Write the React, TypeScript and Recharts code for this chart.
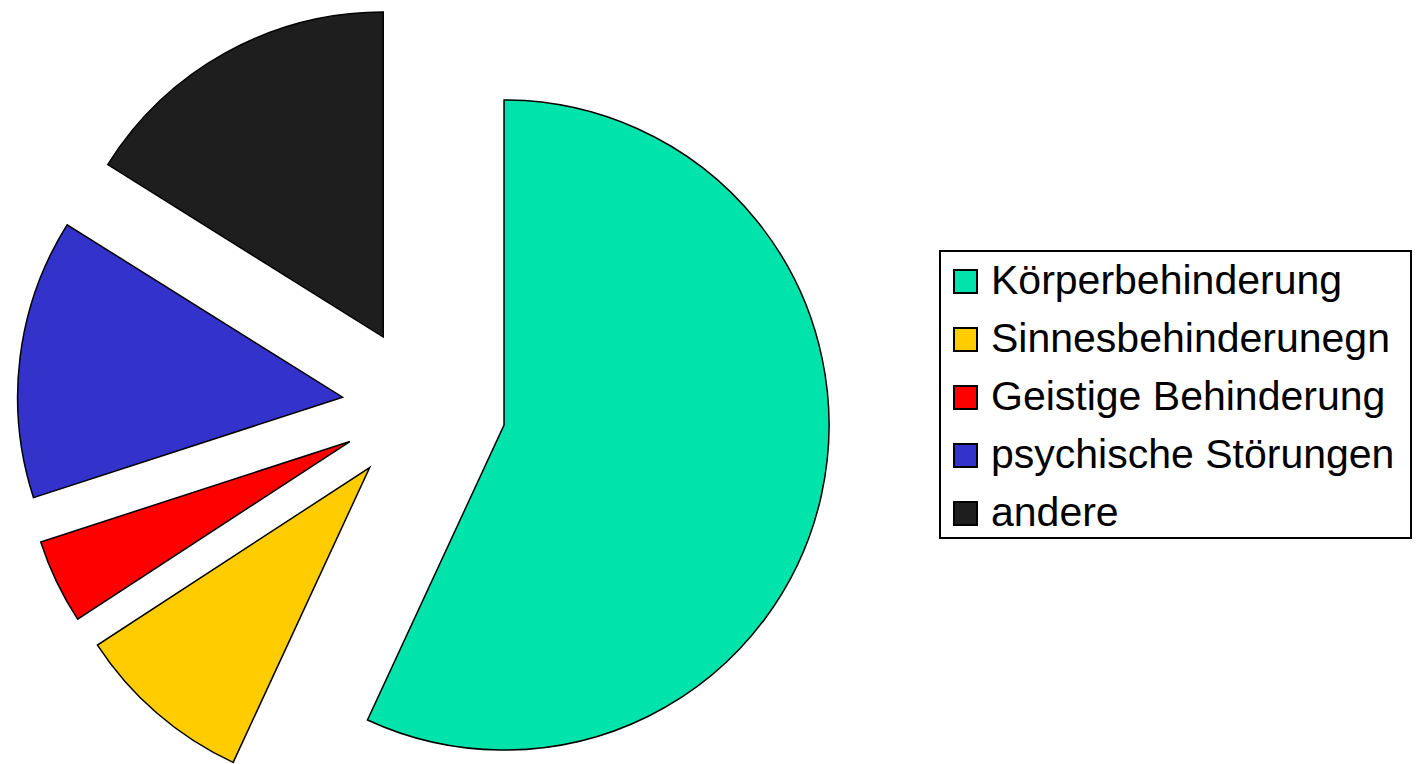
import { PieChart, Pie, Cell } from 'recharts';

const categories = [
  'Körperbehinderung',
  'Sinnesbehinderunegn',
  'Geistige Behinderung',
  'psychische Störungen',
  'andere',
];
const shares = [56.9, 8.9, 4.2, 13.9, 16.1];
const colors = ['#00E3AA', '#FFCC00', '#FF0000', '#3333CC', '#1E1E1E'];

const data = categories.map((name, i) => ({ name, value: shares[i] }));
const total = shares.reduce((a, b) => a + b, 0);

const CX = 422;
const CY = 407;
const RADIUS = 325;
const EXPLODE = [84, 80, 80, 80, 80];

// each slice is pushed out along its own mid angle
function sliceCenter(i: number) {
  const before = shares.slice(0, i).reduce((a, b) => a + b, 0);
  const mid = 90 - ((before + shares[i] / 2) / total) * 360;
  const rad = (mid * Math.PI) / 180;
  return { cx: CX + EXPLODE[i] * Math.cos(rad), cy: CY - EXPLODE[i] * Math.sin(rad) };
}

export default function App() {
  return (
    <div style={{ position: 'absolute', left: 0, top: 0, width: 1418, height: 764, background: '#fff' }}>
      <PieChart width={1418} height={764} margin={{ top: 0, right: 0, bottom: 0, left: 0 }}>
        {categories.map((_, i) => {
          const { cx, cy } = sliceCenter(i);
          return (
            <Pie
              key={i}
              data={data}
              dataKey="value"
              nameKey="name"
              cx={cx}
              cy={cy}
              innerRadius={0}
              outerRadius={RADIUS}
              startAngle={90}
              endAngle={-270}
              isAnimationActive={false}
            >
              {data.map((_, j) => (
                <Cell
                  key={j}
                  fill={j === i ? colors[j] : 'none'}
                  stroke={j === i ? '#000' : 'none'}
                  strokeWidth={1.5}
                />
              ))}
            </Pie>
          );
        })}
      </PieChart>

      {/* legend box */}
      <div
        style={{
          position: 'absolute',
          left: 939,
          top: 250,
          width: 469,
          height: 285,
          border: '2px solid #000',
          background: '#fff',
        }}
      />
      {categories.map((name, i) => (
        <div key={name}>
          <div
            style={{
              position: 'absolute',
              left: 953,
              top: 269 + i * 58,
              width: 21,
              height: 21,
              background: colors[i],
              border: '2px solid #000',
            }}
          />
          <div
            style={{
              position: 'absolute',
              left: 991,
              top: 251 + i * 58,
              height: 58,
              lineHeight: '58px',
              fontFamily: '"Liberation Sans", Arial, sans-serif',
              fontSize: 41,
              color: '#000',
              whiteSpace: 'nowrap',
            }}
          >
            {name}
          </div>
        </div>
      ))}
    </div>
  );
}
